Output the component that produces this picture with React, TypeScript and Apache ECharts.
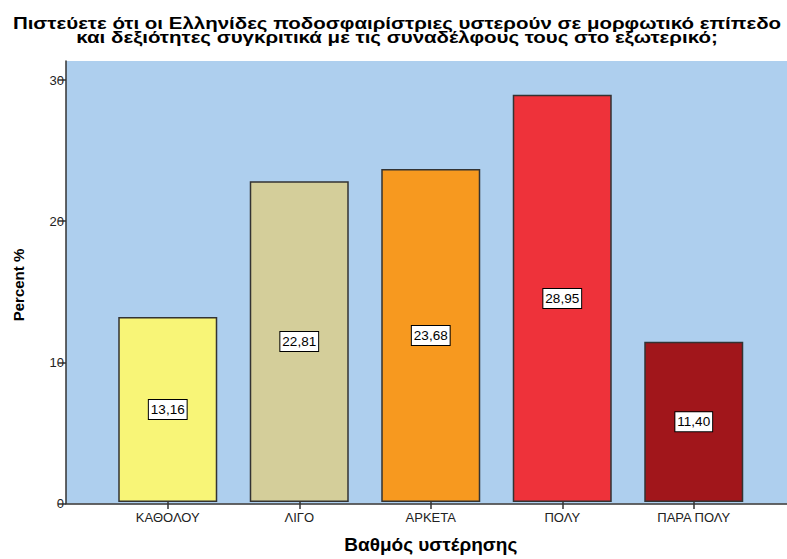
import React, { useEffect, useRef } from "react";
import * as echarts from "echarts";

const categories = ["ΚΑΘΟΛΟΥ", "ΛΙΓΟ", "ΑΡΚΕΤΑ", "ΠΟΛΥ", "ΠΑΡΑ ΠΟΛΥ"];
const values = [13.16, 22.81, 23.68, 28.95, 11.4];
const barColors = ["#f8f577", "#d4ce9a", "#f7991f", "#ee323a", "#a1161b"];
const yTicks = [0, 10, 20, 30];
const titleLines = [
  "Πιστεύετε ότι οι Ελληνίδες ποδοσφαιρίστριες υστερούν σε μορφωτικό επίπεδο",
  "και δεξιότητες συγκριτικά με τις συναδέλφους τους στο εξωτερικό;",
];
const xName = "Βαθμός υστέρησης";
const yName = "Percent %";

const Y_MAX = 31.35;
const FONT = "Liberation Sans, Arial, sans-serif";

export default function App() {
  const ref = useRef<HTMLDivElement>(null);
  useEffect(() => {
    if (!ref.current) return;
    const chart = echarts.init(ref.current, null, { renderer: "svg" });
    const top = 61;
    const bottom = 559 - 503.5;
    chart.setOption({
      animation: false,
      backgroundColor: "#ffffff",
      graphic: [
        ...titleLines.map((t, i) => ({
          type: "text",
          x: 397,
          y: i === 0 ? 23.4 : 37.2,
          scaleX: 1.205,
          style: {
            text: t,
            fontFamily: FONT,
            fontWeight: "bold",
            fontSize: 17,
            fill: "#000",
            textAlign: "center",
            textVerticalAlign: "middle",
          },
        })),
        {
          type: "text",
          x: 18,
          y: 285,
          rotation: Math.PI / 2,
          style: {
            text: yName,
            fontFamily: FONT,
            fontWeight: "bold",
            fontSize: 15,
            fill: "#000",
            textAlign: "center",
            textVerticalAlign: "middle",
          },
        },
      ],
      grid: [
        {
          left: 66,
          right: 0,
          top,
          bottom,
          show: true,
          backgroundColor: "#aecfee",
          borderWidth: 0,
        },
        {
          left: 102,
          right: 27.5,
          top,
          bottom,
        },
      ],
      xAxis: [
        {
          gridIndex: 0,
          type: "value",
          min: 0,
          max: 1,
          axisLine: { show: true, lineStyle: { color: "#333", width: 1.5 } },
          axisTick: { show: false },
          axisLabel: { show: false },
          splitLine: { show: false },
        },
        {
          gridIndex: 1,
          type: "category",
          data: categories,
          axisLine: { show: false },
          axisTick: {
            show: true,
            alignWithLabel: true,
            length: 7,
            lineStyle: { color: "#333", width: 1.5 },
          },
          axisLabel: {
            fontFamily: FONT,
            fontSize: 13,
            color: "#222",
            margin: 9,
          },
          name: xName,
          nameLocation: "middle",
          nameGap: 33,
          nameTextStyle: {
            fontFamily: FONT,
            fontWeight: "bold",
            fontSize: 19,
            color: "#000",
          },
          splitLine: { show: false },
        },
      ],
      yAxis: [
        {
          gridIndex: 0,
          type: "value",
          min: 0,
          max: Y_MAX,
          interval: 10,
          axisLine: { show: true, lineStyle: { color: "#333", width: 1.5 } },
          axisTick: { show: true, length: 8, lineStyle: { color: "#333", width: 1.5 } },
          axisLabel: {
            fontFamily: FONT,
            fontSize: 13,
            color: "#222",
            margin: 2,
            formatter: (v: number) => (yTicks.includes(v) ? String(v) : ""),
            showMaxLabel: false,
          },
          splitLine: { show: false },
        },
        {
          gridIndex: 1,
          type: "value",
          min: 0,
          max: Y_MAX,
          show: false,
        },
      ],
      series: [
        {
          type: "bar",
          xAxisIndex: 1,
          yAxisIndex: 1,
          barWidth: 99,
          data: values.map((v, i) => ({
            value: v,
            itemStyle: { color: barColors[i] },
          })),
          itemStyle: { borderColor: "#333", borderWidth: 1.5 },
          label: {
            show: true,
            position: "inside",
            formatter: (p: any) => p.value.toFixed(2).replace(".", ","),
            fontFamily: FONT,
            fontSize: 13.5,
            color: "#000",
            backgroundColor: "#fff",
            borderColor: "#000",
            borderWidth: 1,
            padding: [3, 2, 2, 2],
          },
        },
      ],
    });
    return () => chart.dispose();
  }, []);
  return (
    <div
      ref={ref}
      style={{ position: "fixed", left: 0, top: 0, width: 787, height: 559 }}
    />
  );
}
